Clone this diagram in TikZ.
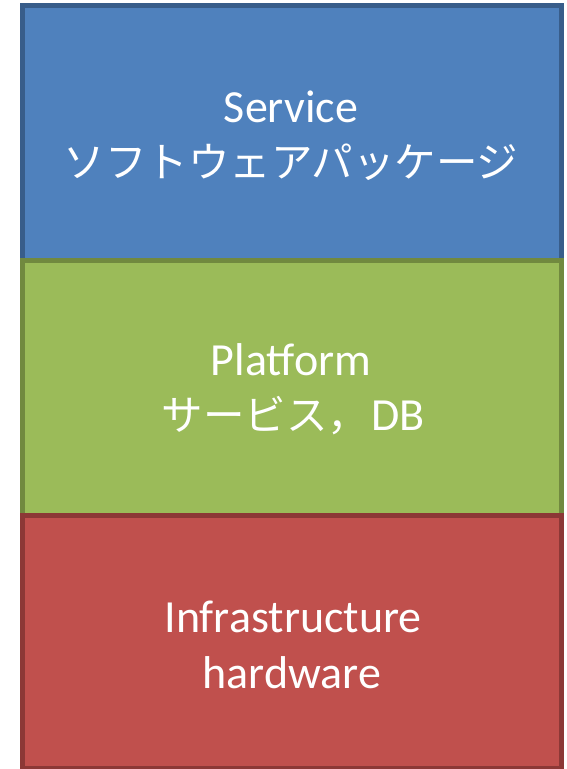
\documentclass[tikz,border=0pt]{standalone}
\usepackage{fontspec}
\setmainfont{Carlito}
\newfontfamily\jpfont{Noto Sans CJK JP}
\definecolor{svcfill}{HTML}{4F81BD}
\definecolor{svcline}{HTML}{385D8A}
\definecolor{pfmfill}{HTML}{9BBB59}
\definecolor{pfmline}{HTML}{71893F}
\definecolor{infill}{HTML}{C0504D}
\definecolor{inline}{HTML}{8C3836}
\tikzset{
  layer/.style={line width=5pt, inner sep=0pt, minimum width=539pt, minimum height=255pt, rectangle},
  latin/.style={text=white, inner sep=0pt, anchor=base, font=\fontsize{46}{50}\selectfont},
  kana/.style={text=white, inner sep=0pt, anchor=base, font=\jpfont\fontsize{41.5}{46}\selectfont},
}
\begin{document}
\begin{tikzpicture}[x=1pt,y=-1pt]
\useasboundingbox (0,0) rectangle (566,769);
% the three stacked layers
\node[layer, draw=svcline, fill=svcfill] (svc) at (292,133) {};
\node[layer, draw=pfmline, fill=pfmfill] (pfm) at (292,388) {};
\node[layer, draw=inline, fill=infill, minimum height=252.5pt] (infra) at (292,641.75) {};
% labels
\node[latin] (svct) at (291,122) {Service};
\node[kana] (svcj) at (291,177) {ソフトウェアパッケージ};
\node[latin] (pfmt) at (291,375) {Platform};
\node[kana] (pfmj) at (293,430) {サービス，\kern2pt{\rmfamily\fontsize{46}{50}\selectfont DB}};
\node[latin] (inft) at (293,632) {Infrastructure};
\node[latin] (infh) at (292,688) {hardware};
\end{tikzpicture}
\end{document}
